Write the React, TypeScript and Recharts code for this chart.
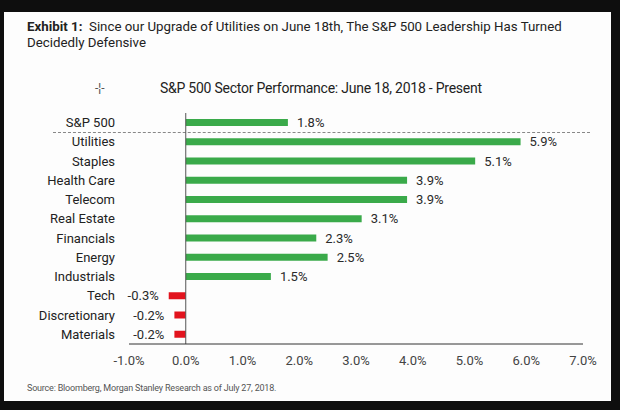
import { BarChart, Bar, XAxis, YAxis, Cell, LabelList, ReferenceLine } from "recharts";

const sectors = [
  "S&P 500",
  "Utilities",
  "Staples",
  "Health Care",
  "Telecom",
  "Real Estate",
  "Financials",
  "Energy",
  "Industrials",
  "Tech",
  "Discretionary",
  "Materials",
];
const performance = [1.8, 5.9, 5.1, 3.9, 3.9, 3.1, 2.3, 2.5, 1.5, -0.3, -0.2, -0.2];
const xTicks = [-1, 0, 1, 2, 3, 4, 5, 6, 7];

const data = sectors.map((name, i) => ({ name, value: performance[i] }));

const W = 620;
const H = 410;
const MARGIN = { top: 113, right: 37, bottom: 36, left: 9 };
const Y_AXIS_W = 120;
const X_AXIS_H = 30;
const FONT = "Roboto, 'Noto Sans', sans-serif";
const GREEN = "#3aaa4a";
const RED = "#e2131d";

const plotBottom = H - MARGIN.bottom - X_AXIS_H;
const band = (plotBottom - MARGIN.top) / sectors.length;

const pct = (v: number) => `${v.toFixed(1)}%`;

function ValueLabel(props: any) {
  const { x, y, width, height, value } = props;
  const left = Math.min(x, x + width);
  const right = Math.max(x, x + width);
  const neg = value < 0;
  return (
    <text
      x={neg ? left - 10 : right + 9}
      y={y + height / 2}
      dy="0.36em"
      textAnchor={neg ? "end" : "start"}
      fontSize={13}
      fill="#2a2a2a"
      fontFamily={FONT}
    >
      {pct(value)}
    </text>
  );
}

export default function App() {
  return (
    <div
      style={{
        position: "absolute",
        left: 0,
        top: 0,
        width: W,
        height: H,
        background: "#0e0e0e",
        fontFamily: FONT,
        overflow: "hidden",
      }}
    >
      <div
        style={{
          position: "absolute",
          left: 4,
          top: 12,
          width: 607,
          height: 389,
          background: "#fdfdfd",
        }}
      />
      <div
        style={{
          position: "absolute",
          left: 27,
          top: 19,
          fontSize: 13.3,
          lineHeight: "16px",
          color: "#222",
        }}
      >
        <b>Exhibit 1:</b>&nbsp; Since our Upgrade of Utilities on June 18th, The S&amp;P 500 Leadership Has Turned
        <br />
        Decidedly Defensive
      </div>
      <div
        style={{
          position: "absolute",
          left: 95,
          top: 80,
          fontSize: 12,
          lineHeight: "16px",
          color: "#555",
        }}
      >
        -¦-
      </div>
      <div
        style={{
          position: "absolute",
          left: 160,
          top: 79,
          fontSize: 14,
          lineHeight: "18px",
          color: "#222",
          letterSpacing: -0.24,
        }}
      >
        S&amp;P 500 Sector Performance: June 18, 2018 - Present
      </div>
      <div
        style={{
          position: "absolute",
          left: 53,
          top: MARGIN.top + band,
          width: 537,
          borderTop: "1px dashed #888",
        }}
      />
      <div
        style={{
          position: "absolute",
          left: 27,
          top: 382,
          fontSize: 9,
          lineHeight: "12px",
          color: "#555",
          letterSpacing: -0.2,
        }}
      >
        Source: Bloomberg, Morgan Stanley Research as of July 27, 2018.
      </div>
      <div style={{ position: "absolute", left: 0, top: 0 }}>
        <BarChart width={W} height={H} data={data} layout="vertical" margin={MARGIN}>
          <XAxis
            type="number"
            domain={[-1, 7]}
            ticks={xTicks}
            tickFormatter={pct}
            height={X_AXIS_H}
            axisLine={{ stroke: "#333" }}
            tickLine={false}
            tickSize={0}
            tickMargin={12}
            tick={{ fontSize: 13, fill: "#444", fontFamily: FONT }}
          />
          <YAxis
            type="category"
            dataKey="name"
            width={Y_AXIS_W}
            axisLine={false}
            tickLine={false}
            tickSize={0}
            tickMargin={14}
            interval={0}
            tick={{ fontSize: 13, fill: "#222", fontFamily: FONT }}
          />
          <ReferenceLine x={0} stroke="#555" />
          <Bar dataKey="value" barSize={7} isAnimationActive={false}>
            {data.map((d, i) => (
              <Cell key={`cell-${i}`} fill={d.value < 0 ? RED : GREEN} />
            ))}
            <LabelList dataKey="value" content={ValueLabel} />
          </Bar>
        </BarChart>
      </div>
    </div>
  );
}
